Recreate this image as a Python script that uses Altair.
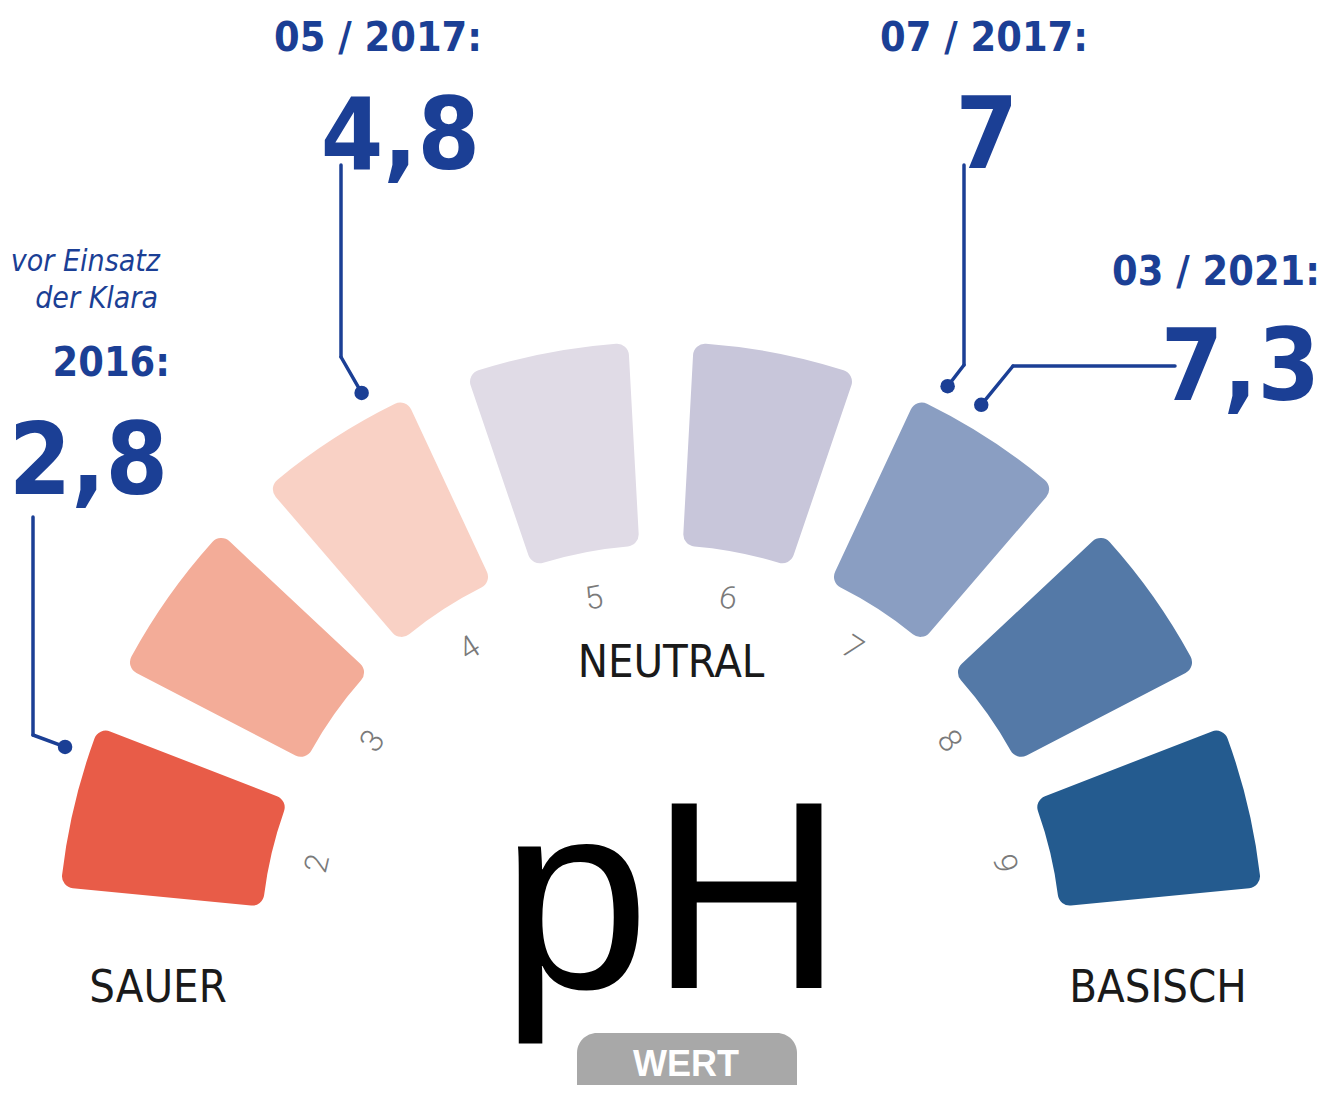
import math
import altair as alt
import pandas as pd

# ---------------- data ----------------
ph_values = [2, 3, 4, 5, 6, 7, 8, 9]
tick_labels = ["2", "3", "4", "5", "6", "7", "8", "9"]
segment_colors = ["#E85C48", "#F3AC98", "#F9D1C5", "#E0DBE6",
                  "#C8C6DA", "#8A9EC2", "#5479A7", "#245B8F"]

callout_dates = ["2016:", "05 / 2017:", "07 / 2017:", "03 / 2021:"]
callout_values = ["2,8", "4,8", "7", "7,3"]
callout_ph = [2.8, 4.8, 7.0, 7.3]
# where the pointer dots sit along the gauge (in pH units)
pointer_pos = [2.23, 4.20, 6.74, 6.90]

zone_labels = ["SAUER", "NEUTRAL", "BASISCH"]
note_lines = ["vor Einsatz", "der Klara"]
centre_title = "pH"
button_label = "WERT"

# ---------------- layout ----------------
O = 8  # page margin


def sx(v):
    return v - O


BLUE = "#1B3F95"
COND = "Noto Sans Condensed, Liberation Sans Narrow, Arial Narrow, DejaVu Sans Condensed, sans-serif"
REG = "Liberation Sans, Arial, Helvetica, sans-serif"

CX, CY = sx(661), sx(945)
R_IN, R_OUT, R_TICK, R_DOT = 400, 603, 353, 628
HALF = 0.358
DOM = [1.5, 9.5]
SPAN_DEG = 87.6
SPAN_RAD = math.radians(SPAN_DEG)

theta_scale = alt.Scale(domain=DOM, range=[-SPAN_RAD, SPAN_RAD])

seg_df = pd.DataFrame({"ph": ph_values, "label": tick_labels, "color": segment_colors})

callouts = pd.DataFrame({
    "date": callout_dates,
    "value": callout_values,
    "ph": callout_ph,
    "pos": pointer_pos,
    "elbow_x": [sx(v) for v in [33, 341, 964, 1013]],
    "elbow_y": [sx(v) for v in [735, 357, 365, 366]],
    "end_x": [sx(v) for v in [33, 341, 964, 1175]],
    "end_y": [sx(v) for v in [517, 165, 165, 366]],
    "date_x": [sx(v) for v in [170, 482, 1088, 1320]],
    "date_y": [sx(v) for v in [376, 51, 51, 285]],
    "value_x": [sx(v) for v in [168, 480, 1018, 1320]],
    "value_y": [sx(v) for v in [494, 169, 168, 400]],
})

zones = pd.DataFrame({
    "text": zone_labels,
    "x": [sx(v) for v in [158, 671, 1158]],
    "y": [sx(v) for v in [1002, 677, 1002]],
})

notes = pd.DataFrame({
    "text": note_lines,
    "x": [sx(v) for v in [160, 158]],
    "y": [sx(v) for v in [271, 308]],
})

title_df = pd.DataFrame({"text": [centre_title], "x": [sx(672)], "y": [sx(988)]})
button_df = pd.DataFrame({"text": [button_label],
                          "x": [sx(577)], "x2": [sx(797)],
                          "y": [sx(1033)], "y2": [sx(1110)],
                          "tx": [sx(686)], "ty": [sx(1076)]})

# ---------------- layers ----------------
segments = alt.Chart(seg_df).transform_calculate(
    lo=f"datum.ph - {HALF}", hi=f"datum.ph + {HALF}"
).mark_arc(innerRadius=R_IN, outerRadius=R_OUT, cornerRadius=12).encode(
    theta=alt.Theta("lo:Q", scale=theta_scale, stack=False),
    theta2="hi:Q",
    color=alt.Color("color:N", scale=None, legend=None),
    x=alt.value(CX), y=alt.value(CY),
)

ticks = alt.Chart(seg_df).transform_calculate(
    ang=f"((datum.ph - {DOM[0]}) / {DOM[1] - DOM[0]} * {2 * SPAN_DEG} - {SPAN_DEG} + 360) % 360"
).mark_text(font="Roboto, " + REG, fontWeight=300, fontSize=32, color="#7A7A7A",
            align="center", baseline="middle", radius=R_TICK).encode(
    theta=alt.Theta("ph:Q", scale=theta_scale, stack=False),
    text="label:N",
    angle=alt.Angle("ang:Q", scale=None),
    x=alt.value(CX), y=alt.value(CY),
)

theta_expr = f"((datum.pos - {DOM[0]}) / {DOM[1] - DOM[0]} * 2 - 1) * {SPAN_RAD}"
cb = alt.Chart(callouts).transform_calculate(t=theta_expr).transform_calculate(
    dot_x=f"{CX} + {R_DOT} * sin(datum.t)",
    dot_y=f"{CY} - {R_DOT} * cos(datum.t)",
)

lead1 = cb.mark_rule(color=BLUE, strokeWidth=3.5, strokeCap="round").encode(
    x=alt.X("dot_x:Q", scale=None, axis=None), y=alt.Y("dot_y:Q", scale=None, axis=None),
    x2="elbow_x:Q", y2="elbow_y:Q")
lead2 = cb.mark_rule(color=BLUE, strokeWidth=3.5, strokeCap="round").encode(
    x=alt.X("elbow_x:Q", scale=None, axis=None), y=alt.Y("elbow_y:Q", scale=None, axis=None),
    x2="end_x:Q", y2="end_y:Q")
dots = cb.mark_circle(color=BLUE, opacity=1, size=210).encode(
    x=alt.X("dot_x:Q", scale=None, axis=None), y=alt.Y("dot_y:Q", scale=None, axis=None))

dates = cb.mark_text(font=COND, fontWeight="bold", fontSize=41, color=BLUE,
                     align="right", baseline="alphabetic").encode(
    x=alt.X("date_x:Q", scale=None, axis=None), y=alt.Y("date_y:Q", scale=None, axis=None),
    text="date:N")
values = cb.mark_text(font=COND, fontWeight="bold", fontSize=100, color=BLUE,
                      align="right", baseline="alphabetic").encode(
    x=alt.X("value_x:Q", scale=None, axis=None), y=alt.Y("value_y:Q", scale=None, axis=None),
    text="value:N")

note_text = alt.Chart(notes).mark_text(font=COND, fontStyle="italic", fontSize=30, color=BLUE,
                                       align="right", baseline="alphabetic").encode(
    x=alt.X("x:Q", scale=None, axis=None), y=alt.Y("y:Q", scale=None, axis=None), text="text:N")

zone_text = alt.Chart(zones).mark_text(font=COND, fontSize=45, color="#1A1A1A",
                                       align="center", baseline="alphabetic").encode(
    x=alt.X("x:Q", scale=None, axis=None), y=alt.Y("y:Q", scale=None, axis=None), text="text:N")

title_text = alt.Chart(title_df).mark_text(font=REG, fontSize=268, color="#000000",
                                           align="center", baseline="alphabetic").encode(
    x=alt.X("x:Q", scale=None, axis=None), y=alt.Y("y:Q", scale=None, axis=None), text="text:N")

button = alt.Chart(button_df).mark_rect(color="#A8A8A8", cornerRadius=20).encode(
    x=alt.X("x:Q", scale=None, axis=None), x2="x2:Q",
    y=alt.Y("y:Q", scale=None, axis=None), y2="y2:Q")
button_text = alt.Chart(button_df).mark_text(font=REG, fontWeight="bold", fontSize=36,
                                             color="#FFFFFF", align="center",
                                             baseline="alphabetic").encode(
    x=alt.X("tx:Q", scale=None, axis=None), y=alt.Y("ty:Q", scale=None, axis=None), text="text:N")

chart = alt.layer(
    segments, ticks, lead1, lead2, dots, dates, values, note_text,
    zone_text, title_text, button, button_text
).properties(
    width=1319, height=1077, padding=0, background="#FFFFFF",
    autosize=alt.AutoSizeParams(type="none"),
).configure_view(strokeWidth=0)

chart.save("out.html", embed_options={"renderer": "svg", "actions": False})
